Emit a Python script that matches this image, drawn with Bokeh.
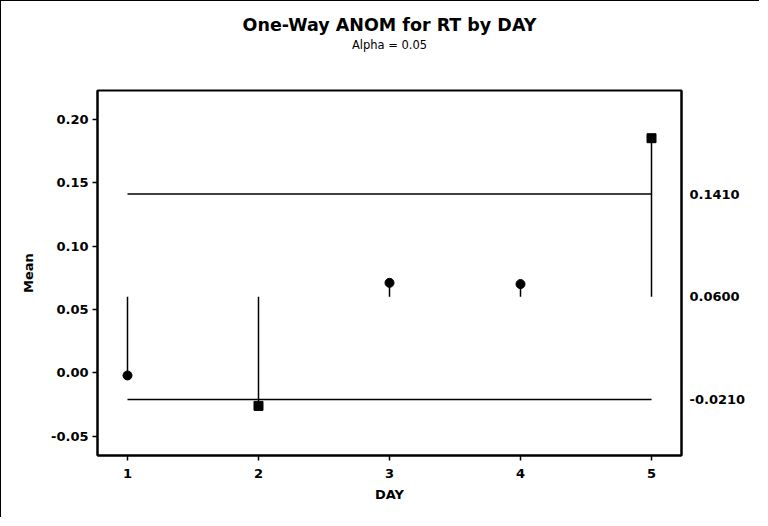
from bokeh.plotting import figure
from bokeh.models import (ColumnDataSource, LinearAxis, FixedTicker, NumeralTickFormatter,
                          Title, Range1d)
from bokeh.embed import file_html
from bokeh.resources import INLINE

# ---- data ----
days = [1, 2, 3, 4, 5]
means = [-0.002, -0.026, 0.071, 0.070, 0.185]
center = 0.0600
udl = 0.1410
ldl = -0.0210
y_ticks = [-0.05, 0.00, 0.05, 0.10, 0.15, 0.20]
title_text = "One-Way ANOM for RT by DAY"
subtitle_text = "Alpha = 0.05"

FONT = "DejaVu Sans"

p = figure(width=759, height=517, output_backend="svg", toolbar_location=None,
           x_range=Range1d(0.771, 5.229), y_range=Range1d(-0.0651, 0.2226),
           min_border_left=96, min_border_right=79, min_border_top=89, min_border_bottom=63)
p.styles = {"border-top": "1px solid #000", "border-left": "1px solid #000"}
p.grid.visible = False
p.outline_line_color = "black"
p.outline_line_width = 2
p.background_fill_color = "white"
p.border_fill_color = "white"

# decision limit lines
p.line(x=[days[0], days[-1]], y=[udl, udl], line_color="black", line_width=1.5)
p.line(x=[days[0], days[-1]], y=[ldl, ldl], line_color="black", line_width=1.5)

# stems from center line to means
src = ColumnDataSource(dict(
    x=days, y=means, y0=[center] * len(days),
    marker=["square" if (m > udl or m < ldl) else "circle" for m in means],
))
p.segment(x0="x", y0="y0", x1="x", y1="y", source=src, line_color="black", line_width=1.5)
p.scatter(x="x", y="y", marker="marker", size=9, source=src,
          fill_color="black", line_color="black")

# axes styling
xa = p.xaxis[0]
xa.ticker = FixedTicker(ticks=days)
xa.axis_label = "DAY"
ya = p.yaxis[0]
ya.ticker = FixedTicker(ticks=y_ticks)
ya.formatter = NumeralTickFormatter(format="0.00")
ya.axis_label = "Mean"

for ax in (xa, ya):
    ax.axis_line_color = "black"
    ax.axis_line_width = 2
    ax.major_tick_line_color = "black"
    ax.major_tick_line_width = 1.5
    ax.major_tick_out = 5
    ax.major_tick_in = 0
    ax.minor_tick_line_color = None
    ax.major_label_text_font = FONT
    ax.major_label_text_font_size = "13px"
    ax.major_label_text_font_style = "bold"
    ax.major_label_text_color = "black"
    ax.axis_label_text_font = FONT
    ax.axis_label_text_font_size = "13px"
    ax.axis_label_text_font_style = "bold"
    ax.axis_label_text_color = "black"

xa.major_label_standoff = 8
xa.axis_label_standoff = 6
ya.major_label_standoff = 4
ya.axis_label_standoff = 12

# right axis with limit values
ra = LinearAxis(ticker=FixedTicker(ticks=[ldl, center, udl]),
                formatter=NumeralTickFormatter(format="0.0000"))
ra.axis_line_color = "black"
ra.axis_line_width = 2
ra.major_tick_out = 0
ra.major_tick_in = 0
ra.minor_tick_line_color = None
ra.major_label_standoff = 8
ra.major_label_text_font = FONT
ra.major_label_text_font_size = "13px"
ra.major_label_text_font_style = "bold"
ra.major_label_text_color = "black"
p.add_layout(ra, "right")

# subtitle carried by a bare top axis (no line, no ticks), title above it
ta = LinearAxis(ticker=FixedTicker(ticks=[]), axis_label=subtitle_text)
ta.axis_line_color = None
ta.major_tick_line_color = None
ta.minor_tick_line_color = None
ta.major_tick_out = 0
ta.major_tick_in = 0
ta.major_label_standoff = 0
ta.axis_label_standoff = 39
ta.axis_label_text_font = FONT
ta.axis_label_text_font_size = "11.5px"
ta.axis_label_text_font_style = "normal"
ta.axis_label_text_color = "black"
p.add_layout(ta, "above")

p.add_layout(Title(text=title_text, align="center", offset=-8, standoff=0,
                   text_font=FONT, text_font_size="17.5px", text_font_style="bold",
                   text_color="black"), "above")

open("out.html", "w").write(file_html(p, INLINE))
